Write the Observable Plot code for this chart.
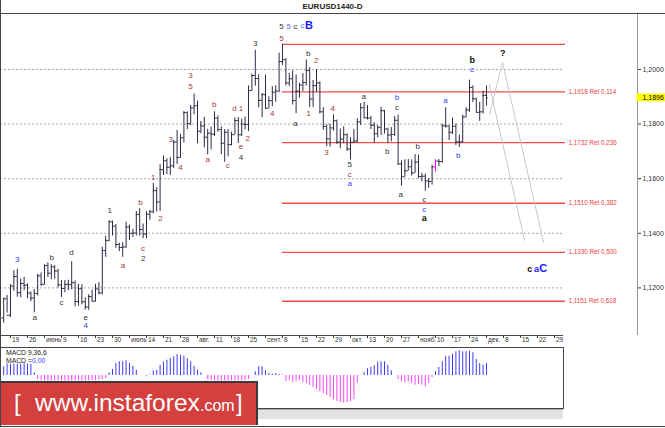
<!DOCTYPE html>
<html><head><meta charset="utf-8">
<script src="https://cdn.jsdelivr.net/npm/d3@7"></script>
<script src="https://cdn.jsdelivr.net/npm/@observablehq/plot@0.6"></script>
<style>
body{margin:0;background:#fff;}
#wrap{position:relative;width:665px;height:428px;overflow:hidden;background:#fff;font-family:"Liberation Sans",Arial,sans-serif;}
#title{position:absolute;left:0;top:0;width:665px;height:13px;border-bottom:1px solid #444;text-align:center;font-weight:bold;font-size:8px;line-height:14px;color:#222;}
#main{position:absolute;left:0;top:14px;}
#macd{position:absolute;left:0;top:346px;}
.ml{position:absolute;font-size:6.8px;line-height:7px;color:#222;white-space:pre;}
#scroll{position:absolute;left:0;top:409px;width:563px;height:9px;background:#e2e2e2;border-top:1px solid #aaa;}
#banner{position:absolute;left:0;top:381px;width:258px;height:44px;background:#d3403e;border-top:2px solid #3a3a3a;border-right:2px solid #3a3a3a;box-sizing:border-box;}
.bt{position:absolute;color:#fff;white-space:pre;line-height:1;}
#border{position:absolute;left:0;top:0;width:665px;height:427px;border-left:1px solid #444;border-bottom:1px solid #444;box-sizing:border-box;pointer-events:none;}
</style></head>
<body>
<div id="wrap">
  <div id="title">EURUSD1440-D</div>
  <div id="main"></div>
  <div id="macd"></div>
  <div class="ml" style="left:6px;top:349px;">MACD 9,36,6</div>
  <div class="ml" style="left:6px;top:357px;">MACD =</div>
  <div class="ml" style="left:32px;top:357px;color:#3b3bff;">0,00</div>
  <div id="scroll"></div>
  <div id="banner"></div>
  <div class="bt" style="left:14px;top:391px;font-size:24px;">[</div>
  <div class="bt" style="left:35px;top:391px;font-size:24.5px;">www.instaforex</div>
  <div class="bt" style="left:200px;top:398px;font-size:16px;">.com</div>
  <div class="bt" style="left:236px;top:391px;font-size:24px;">]</div>
  <div id="border"></div>
</div>
<script>
// ---- data ----
const dates = ["2017-05-17","2017-05-18","2017-05-19","2017-05-22","2017-05-23","2017-05-24","2017-05-25","2017-05-26","2017-05-29","2017-05-30","2017-05-31",
"2017-06-01","2017-06-02","2017-06-05","2017-06-06","2017-06-07","2017-06-08","2017-06-09","2017-06-12","2017-06-13","2017-06-14","2017-06-15","2017-06-16","2017-06-19","2017-06-20","2017-06-21","2017-06-22","2017-06-23","2017-06-26","2017-06-27","2017-06-28","2017-06-29","2017-06-30",
"2017-07-03","2017-07-04","2017-07-05","2017-07-06","2017-07-07","2017-07-10","2017-07-11","2017-07-12","2017-07-13","2017-07-14","2017-07-17","2017-07-18","2017-07-19","2017-07-20","2017-07-21","2017-07-24","2017-07-25","2017-07-26","2017-07-27","2017-07-28","2017-07-31",
"2017-08-01","2017-08-02","2017-08-03","2017-08-04","2017-08-07","2017-08-08","2017-08-09","2017-08-10","2017-08-11","2017-08-14","2017-08-15","2017-08-16","2017-08-17","2017-08-18","2017-08-21","2017-08-22","2017-08-23","2017-08-24","2017-08-25","2017-08-28","2017-08-29","2017-08-30","2017-08-31",
"2017-09-01","2017-09-04","2017-09-05","2017-09-06","2017-09-07","2017-09-08","2017-09-11","2017-09-12","2017-09-13","2017-09-14","2017-09-15","2017-09-18","2017-09-19","2017-09-20","2017-09-21","2017-09-22","2017-09-25","2017-09-26","2017-09-27","2017-09-28","2017-09-29",
"2017-10-02","2017-10-03","2017-10-04","2017-10-05","2017-10-06","2017-10-09","2017-10-10","2017-10-11","2017-10-12","2017-10-13","2017-10-16","2017-10-17","2017-10-18","2017-10-19","2017-10-20","2017-10-23","2017-10-24","2017-10-25","2017-10-26","2017-10-27","2017-10-30","2017-10-31",
"2017-11-01","2017-11-02","2017-11-03","2017-11-06","2017-11-07","2017-11-08","2017-11-09","2017-11-10","2017-11-13","2017-11-14","2017-11-15","2017-11-16","2017-11-17","2017-11-20","2017-11-21","2017-11-22","2017-11-23","2017-11-24","2017-11-27","2017-11-28","2017-11-29","2017-11-30",
"2017-12-01"];
const openP = [1.1090,1.1160,1.1100,1.1207,1.1242,1.1183,1.1216,1.1210,1.1181,1.1163,1.1180,
1.1244,1.1213,1.1282,1.1254,1.1277,1.1262,1.1211,1.1198,1.1213,1.1212,1.1219,1.1150,1.1197,1.1149,1.1130,1.1168,1.1151,1.1196,1.1182,1.1337,1.1374,1.1442,
1.1426,1.1359,1.1348,1.1350,1.1423,1.1400,1.1401,1.1469,1.1414,1.1397,1.1470,1.1479,1.1556,1.1515,1.1633,1.1666,1.1642,1.1647,1.1734,1.1678,1.1750,
1.1842,1.1802,1.1859,1.1867,1.1774,1.1793,1.1752,1.1767,1.1763,1.1822,1.1780,1.1730,1.1770,1.1725,1.1761,1.1813,1.1761,1.1800,1.1799,1.1923,1.1978,1.1967,1.1887,
1.1908,1.1858,1.1886,1.1917,1.1921,1.2029,1.2036,1.1951,1.1966,1.1886,1.1921,1.1943,1.1952,1.1996,1.1892,1.1941,1.1951,1.1845,1.1791,1.1746,1.1786,
1.1812,1.1734,1.1745,1.1761,1.1709,1.1733,1.1738,1.1808,1.1860,1.1823,1.1822,1.1796,1.1765,1.1788,1.1849,1.1782,1.1760,1.1762,1.1814,1.1654,1.1607,1.1629,
1.1644,1.1621,1.1661,1.1608,1.1609,1.1592,1.1590,1.1643,1.1665,1.1663,1.1794,1.1793,1.1770,1.1792,1.1735,1.1735,1.1826,1.1852,1.1934,1.1893,1.1843,1.1845,
1.1905];
const highP = [1.1163,1.1172,1.1212,1.1263,1.1268,1.1233,1.1239,1.1215,1.1185,1.1194,1.1250,
1.1255,1.1285,1.1292,1.1285,1.1282,1.1268,1.1227,1.1227,1.1228,1.1296,1.1225,1.1213,1.1212,1.1163,1.1175,1.1192,1.1213,1.1219,1.1349,1.1389,1.1446,1.1445,
1.1432,1.1364,1.1366,1.1441,1.1430,1.1415,1.1480,1.1490,1.1434,1.1479,1.1484,1.1583,1.1567,1.1651,1.1683,1.1673,1.1677,1.1740,1.1777,1.1762,1.1846,
1.1845,1.1868,1.1910,1.1884,1.1810,1.1825,1.1780,1.1790,1.1845,1.1830,1.1790,1.1780,1.1780,1.1770,1.1823,1.1824,1.1818,1.1826,1.1940,1.1983,1.2070,1.1981,1.1912,
1.1980,1.1900,1.1937,1.1940,1.2060,1.2092,1.2040,1.1985,1.1995,1.1980,1.1950,1.1985,1.2035,1.2007,1.1960,1.2000,1.1955,1.1860,1.1797,1.1800,1.1834,
1.1815,1.1782,1.1790,1.1765,1.1750,1.1780,1.1820,1.1875,1.1880,1.1868,1.1829,1.1805,1.1795,1.1862,1.1850,1.1785,1.1787,1.1828,1.1833,1.1665,1.1669,1.1670,
1.1669,1.1688,1.1686,1.1620,1.1617,1.1600,1.1650,1.1669,1.1670,1.1800,1.1860,1.1795,1.1822,1.1800,1.1760,1.1833,1.1860,1.1961,1.1940,1.1895,1.1880,1.1921,
1.1940];
const lowP = [1.1071,1.1108,1.1092,1.1188,1.1166,1.1164,1.1190,1.1160,1.1150,1.1109,1.1170,
1.1206,1.1210,1.1238,1.1230,1.1232,1.1200,1.1165,1.1182,1.1190,1.1193,1.1131,1.1133,1.1138,1.1119,1.1118,1.1150,1.1148,1.1174,1.1174,1.1312,1.1368,1.1390,
1.1345,1.1333,1.1312,1.1345,1.1373,1.1385,1.1390,1.1390,1.1380,1.1380,1.1448,1.1471,1.1478,1.1480,1.1612,1.1615,1.1612,1.1637,1.1652,1.1675,1.1731,
1.1780,1.1795,1.1834,1.1728,1.1765,1.1713,1.1688,1.1705,1.1755,1.1770,1.1688,1.1660,1.1680,1.1720,1.1760,1.1729,1.1755,1.1779,1.1773,1.1920,1.1939,1.1860,1.1823,
1.1855,1.1856,1.1864,1.1880,1.1915,1.2015,1.1940,1.1937,1.1870,1.1838,1.1895,1.1920,1.1940,1.1860,1.1861,1.1916,1.1837,1.1778,1.1718,1.1716,1.1774,
1.1726,1.1710,1.1728,1.1700,1.1669,1.1730,1.1730,1.1795,1.1820,1.1815,1.1780,1.1730,1.1750,1.1758,1.1764,1.1730,1.1735,1.1755,1.1650,1.1573,1.1605,1.1628,
1.1610,1.1620,1.1600,1.1588,1.1554,1.1565,1.1577,1.1624,1.1644,1.1657,1.1785,1.1740,1.1762,1.1722,1.1715,1.1730,1.1823,1.1843,1.1879,1.1843,1.1810,1.1837,
1.1866];
const closeP = [1.1160,1.1100,1.1207,1.1242,1.1183,1.1216,1.1210,1.1181,1.1163,1.1180,1.1244,
1.1213,1.1282,1.1254,1.1277,1.1262,1.1211,1.1198,1.1213,1.1212,1.1219,1.1150,1.1197,1.1149,1.1130,1.1168,1.1151,1.1196,1.1182,1.1337,1.1374,1.1442,1.1426,
1.1359,1.1348,1.1350,1.1423,1.1400,1.1401,1.1469,1.1414,1.1397,1.1470,1.1479,1.1556,1.1515,1.1633,1.1666,1.1642,1.1647,1.1734,1.1678,1.1750,1.1842,
1.1802,1.1859,1.1867,1.1774,1.1793,1.1752,1.1767,1.1763,1.1822,1.1780,1.1730,1.1770,1.1725,1.1761,1.1813,1.1761,1.1800,1.1799,1.1923,1.1978,1.1967,1.1887,1.1908,
1.1858,1.1886,1.1917,1.1921,1.2029,1.2036,1.1951,1.1966,1.1886,1.1921,1.1943,1.1952,1.1996,1.1892,1.1941,1.1951,1.1845,1.1791,1.1746,1.1786,1.1812,
1.1734,1.1745,1.1761,1.1709,1.1733,1.1738,1.1808,1.1860,1.1823,1.1822,1.1796,1.1765,1.1788,1.1849,1.1782,1.1760,1.1762,1.1814,1.1654,1.1607,1.1629,1.1644,
1.1621,1.1661,1.1608,1.1609,1.1592,1.1590,1.1643,1.1665,1.1663,1.1794,1.1793,1.1770,1.1792,1.1735,1.1735,1.1826,1.1852,1.1934,1.1893,1.1843,1.1845,1.1905,
1.1896];
const macdHist = [0.0035,0.0046,0.0046,0.0047,0.0046,0.0046,0.0047,0.0046,0.0045,0.0011,-0.0016,
-0.0021,-0.0022,-0.0022,-0.0023,-0.0022,-0.0021,-0.0022,-0.0022,-0.0023,-0.0022,-0.0022,-0.0021,-0.0022,-0.0022,-0.0022,-0.0021,-0.0020,-0.0018,-0.0016,-0.0012,0.0011,0.0024,
0.0048,0.0055,0.0055,0.0059,0.0048,0.0037,0.0021,0,0,-0.0005,0.0002,0.0019,0.0021,0.0041,0.0053,0.0061,0.0068,0.0075,0.0084,0.0081,0.0077,
0.0068,0.0055,0.0037,0.0021,0.0011,0,-0.0016,-0.0021,-0.0022,-0.0022,-0.0023,-0.0022,-0.0022,-0.0021,-0.0022,-0.0022,-0.0022,-0.0020,-0.0016,0,0.0015,0.0035,0.0035,
0.0019,0.0008,0.0005,0.0008,0.0004,0.0002,-0.0024,-0.0020,-0.0028,-0.0024,-0.0020,-0.0028,-0.0032,-0.0040,-0.0048,-0.0056,-0.0064,-0.0072,-0.0080,-0.0088,-0.0096,
-0.0104,-0.0108,-0.0110,-0.0108,-0.0104,-0.0096,-0.0030,0,0.0013,0.0027,0.0033,0.0040,0.0053,0.0055,0.0055,0.0041,0.0019,0,-0.0016,-0.0025,-0.0029,-0.0025,
-0.0032,-0.0039,-0.0036,-0.0039,-0.0045,-0.0032,-0.0008,0.0015,0.0032,0.0055,0.0077,0.0077,0.0085,0.0095,0.0099,0.0095,0.0095,0.0097,0.0091,0.0064,0.0048,0.0041,
0.0048];
const markedBar = "2017-11-10";
const lastPrice = 1.1896;

const fibPrices = [1.2092, 1.1918, 1.1732, 1.1510, 1.1330, 1.1151];
const fibRatios = ["", "0,114", "0,236", "0,382", "0,500", "0,618"];
const fibFrom = "2017-09-08";
const gridPrices = [1.12, 1.14, 1.16, 1.18, 1.20];
const tickLabels = ["19","26","июнь","9","16","23","30","июль","14","21","28","авг.","11","18","25","сент.","8","15","22","29","окт.","13","20","27","нояб.","10","17","24","дек.","8","15","22","29"];
const firstTick = "2017-05-19";

// forecast paths (bar position, price)
const fcPath  = ["A","A","B","B","B"];
const fcBar   = [142.8, 153.2, 142.9, 146.7, 158.8];
const fcPrice = [1.1945, 1.1374, 1.1835, 1.2026, 1.1366];

// wave labels
const waveText  = ["5","5","c","c","B","5","3","b","2","3","5","b","d","1","4","1","4","a","2","3","e","a","c","4","3","4","?","b","c","a","b","c","a","b","b","5","b","c","a","a","c","c","a","c","a","C","3","b","d","c","a","e","4","1","a","b","c","2","1","2"];
const waveBar   = [81.7,83.8,85.8,87.9,89.8,81.7,74.0,89.6,91.9,54.9,54.9,61.9,67.9,69.8,79.0,89.7,96.8,85.8,71.8,49.1,69.8,60.0,65.9,69.8,94.9,52.0,146.8,137.8,137.7,105.9,115.7,115.7,129.9,112.8,121.8,101.8,133.7,101.8,101.8,116.8,123.7,123.7,123.7,154.7,156.7,158.7,4.0,14.1,19.9,17.0,9.1,24.1,24.1,31.2,35.1,40.2,41.0,41.0,44.0,46.1];
const wavePrice = [1.2158,1.2158,1.2158,1.2161,1.2161,1.2114,1.2094,1.2059,1.2033,1.1978,1.1939,1.1873,1.1857,1.1857,1.1840,1.1840,1.1856,1.1803,1.1746,1.1744,1.1718,1.1669,1.1650,1.1679,1.1695,1.1642,1.2060,1.2036,1.2000,1.1902,1.1899,1.1862,1.1886,1.1700,1.1719,1.1651,1.1686,1.1614,1.1581,1.1542,1.1524,1.1487,1.1455,1.1270,1.1270,1.1270,1.1305,1.1312,1.1329,1.1147,1.1091,1.1091,1.1062,1.1484,1.1284,1.1514,1.1343,1.1307,1.1606,1.1456];
const waveStyle = ["k","p","k","c","G","m","k","k","m","m","m","m","m","m","m","m","m","k","m","m","m","m","m","k","m","m","K","K","b","k","b","k","b","k","k","k","b","m","b","k","k","b","K","K","B","G","b","k","k","k","k","k","b","k","m","m","m","k","m","m"];

// ---- styles / layout ----
const styleMap = {
  k: {fill: "#333333", size: 8, weight: "normal"},
  m: {fill: "#a03a3a", size: 8, weight: "normal"},
  b: {fill: "#3b3bff", size: 8, weight: "normal"},
  p: {fill: "#6a6aff", size: 8, weight: "normal"},
  c: {fill: "#2a8cff", size: 8, weight: "normal"},
  K: {fill: "#111111", size: 9, weight: "bold"},
  B: {fill: "#2020ff", size: 9, weight: "bold"},
  G: {fill: "#1a1aff", size: 11, weight: "bold"}
};
const xMin = -0.94, xMax = 186.41;   // bar positions at the plot's left/right edges
const chartEnd = 164.65;              // right edge of the bar area
const fibEnd = 165.24;
const yHi = 1.220147, yLo = 1.102565;
const fmt4 = d => d.toFixed(4).replace(".", ",");

const bars = dates.map((d, i) => ({i, date: d, o: openP[i], h: highP[i], l: lowP[i], c: closeP[i]}));
const barColor = d => d.date === markedBar ? "#ff00ff" : "#2a2a45";
const t0 = dates.indexOf(firstTick);
const ticks = tickLabels.map((label, k) => ({i: t0 + 5 * k, label}));
const fibStart = dates.indexOf(fibFrom);
const fibs = fibPrices.map((p, k) => ({p, ratio: fibRatios[k]}));
const forecast = fcBar.map((b, k) => ({path: fcPath[k], x: b, y: fcPrice[k]}));
const waves = waveText.map((t, k) => ({t, x: waveBar[k], y: wavePrice[k], s: waveStyle[k]}));

const waveMarks = Object.entries(styleMap).map(([key, st]) =>
  Plot.text(waves.filter(w => w.s === key), {x: "x", y: "y", text: "t", fill: st.fill, fontSize: st.size, fontWeight: st.weight}));

const main = Plot.plot({
  width: 665, height: 333,
  marginTop: 0, marginBottom: 12, marginLeft: 0, marginRight: 28,
  style: {fontFamily: "Liberation Sans, Arial, sans-serif", fontSize: "7px", color: "#333", background: "transparent", overflow: "visible"},
  color: {type: "identity"},
  x: {domain: [xMin, xMax], ticks: ticks.map(t => t.i), tickFormat: () => "", tickSize: 3, label: null},
  y: {domain: [yLo, yHi], axis: "right", ticks: gridPrices, tickFormat: fmt4, tickSize: 3, tickPadding: 2, label: null},
  marks: [
    Plot.ruleY(gridPrices, {x1: () => xMin, x2: () => chartEnd, stroke: "#a8a8a8", strokeDasharray: "2,2"}),
    Plot.ruleY(fibs, {y: "p", x1: () => fibStart, x2: () => fibEnd, stroke: "#f04a4a", strokeWidth: 1.4}),
    Plot.line(forecast, {x: "x", y: "y", z: "path", stroke: "#c8c8c8", strokeWidth: 1}),
    Plot.ruleX(bars, {x: "i", y1: "l", y2: "h", stroke: barColor}),
    Plot.ruleY(bars, {y: "o", x1: d => d.i - 0.5, x2: "i", stroke: barColor}),
    Plot.ruleY(bars, {y: "c", x1: "i", x2: d => d.i + 0.5, stroke: barColor}),
    ...waveMarks,
    Plot.text(fibs.filter(f => f.ratio), {x: () => fibEnd, y: "p", text: f => fmt4(f.p) + " Ret " + f.ratio, textAnchor: "start", dx: 3, fill: "#f03c3c", fontSize: 6.3}),
    Plot.ruleX([xMax], {stroke: "#999"}),
    Plot.ruleY([yLo], {x1: () => xMin, x2: () => chartEnd, stroke: "#444"}),
    Plot.rect([lastPrice], {x1: () => xMax - 0.15, x2: () => xMax + 8.6, y1: d => d - 0.00145, y2: d => d + 0.00145, fill: "#ffff00"}),
    Plot.text([lastPrice], {x: () => xMax, y: d => d, text: fmt4, textAnchor: "start", dx: 5, fill: "#000", fontSize: 7}),
    Plot.text(ticks, {x: "i", text: "label", frameAnchor: "bottom", dy: 6, dx: 1.5, textAnchor: "start", fill: "#333", fontSize: 6.5})
  ]
});
document.getElementById("main").appendChild(main);

const macdData = macdHist.map((v, i) => ({i, v}));
const macd = Plot.plot({
  width: 665, height: 63,
  marginTop: 1, marginBottom: 1, marginLeft: 0, marginRight: 102,
  style: {background: "transparent", overflow: "visible"},
  color: {type: "identity"},
  x: {domain: [xMin, chartEnd], axis: null},
  y: {domain: [-0.0132, 0.0112], axis: null},
  marks: [
    Plot.ruleX(macdData, {x: "i", y1: 0, y2: "v", stroke: d => d.v >= 0 ? "#3b3bff" : "#ff44ff"}),
    Plot.frame({stroke: "#444"})
  ]
});
document.getElementById("macd").appendChild(macd);
</script>
</body></html>
